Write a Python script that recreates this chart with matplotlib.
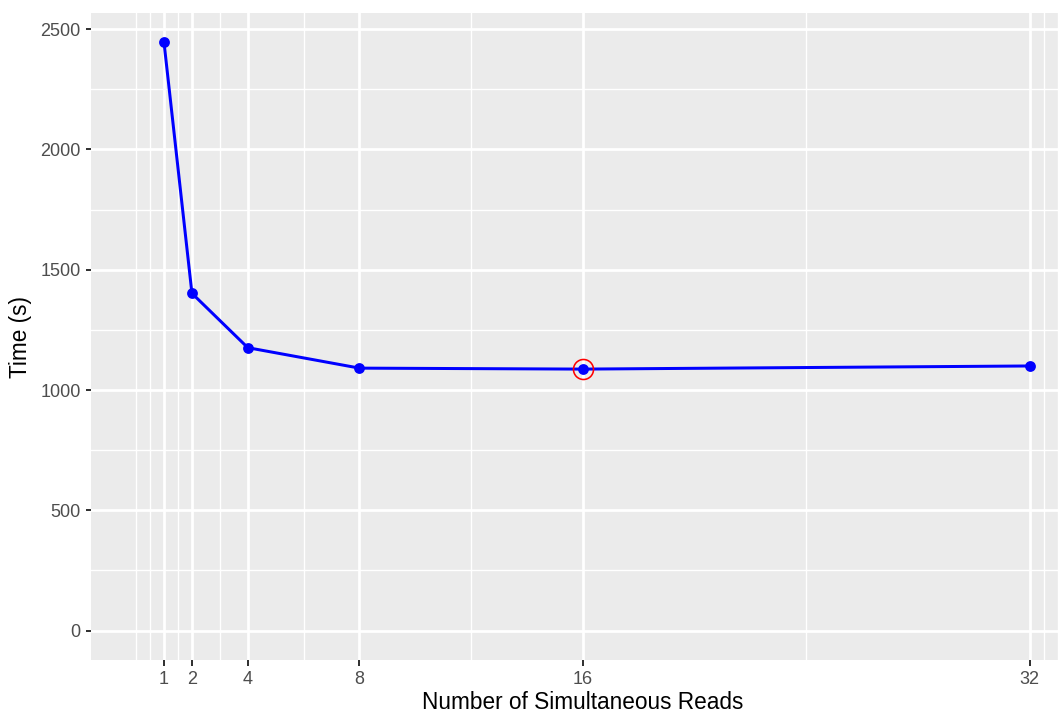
import matplotlib
matplotlib.use('Agg')
import matplotlib.pyplot as plt

# data
reads = [1, 2, 4, 8, 16, 32]
times = [2445, 1402, 1176, 1091, 1087, 1100]
best_read = 16
best_time = 1087

x_breaks = [1, 2, 4, 8, 16, 32]
x_minor = [0, 0.5, 1.5, 3, 6, 12, 24, 32.5, 33]
y_breaks = [0, 500, 1000, 1500, 2000, 2500]
y_minor = [250, 750, 1250, 1750, 2250]

plt.rcParams['font.family'] = ['Liberation Sans', 'DejaVu Sans']

W, H, DPI = 1059, 713, 144
fig = plt.figure(figsize=(W / DPI, H / DPI), dpi=DPI)
# panel runs off the right edge like in the reference
ax = fig.add_axes([91.4 / W, (H - 660) / H, (1074.4 - 91.4) / W, (660 - 13) / H])

ax.set_facecolor('#EBEBEB')
for s in ax.spines.values():
    s.set_visible(False)

ax.plot(reads, times, color='blue', linewidth=1.5, zorder=3)
ax.plot(reads, times, 'o', color='blue', markersize=4.4, zorder=4)
ax.plot([best_read], [best_time], 'o', markerfacecolor='none',
        markeredgecolor='red', markersize=10, markeredgewidth=0.8, zorder=5)

# expand like ggplot, limits include 0
xmin, xmax = 0, max(reads)
ymin, ymax = 0, max(times)
dx = (xmax - xmin) * 0.05
dy = (ymax - ymin) * 0.05
ax.set_xlim(xmin - dx, xmax + dx)
ax.set_ylim(ymin - dy, ymax + dy)

ax.set_xticks(x_breaks)
ax.set_xticklabels([str(v) for v in x_breaks])
ax.set_xticks(x_minor, minor=True)
ax.set_yticks(y_breaks)
ax.set_yticklabels([str(v) for v in y_breaks])
ax.set_yticks(y_minor, minor=True)

ax.grid(which='major', color='white', linewidth=1.4)
ax.grid(which='minor', color='white', linewidth=0.7)
ax.set_axisbelow(True)

ax.tick_params(which='major', length=2.75, width=1.0, color='#333333',
               labelsize=9, labelcolor='#4D4D4D', pad=2.6)
ax.tick_params(which='minor', length=0)

ax.set_xlabel('Number of Simultaneous Reads', fontsize=11.3, color='black', labelpad=1.5)
ax.set_ylabel('Time (s)', fontsize=11.3, color='black', labelpad=4)

fig.savefig('out.png', dpi=DPI)
